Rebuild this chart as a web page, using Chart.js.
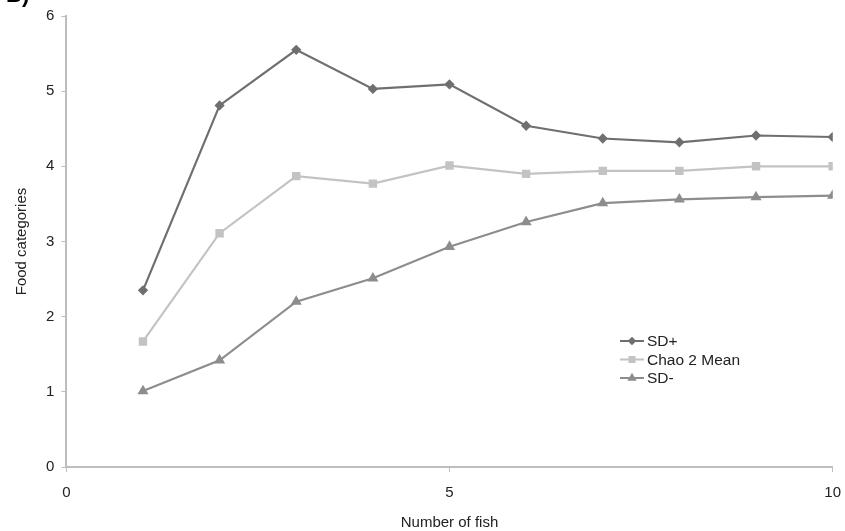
<!DOCTYPE html>
<html>
<head>
<meta charset="utf-8">
<script src="https://cdn.jsdelivr.net/npm/chart.js@4"></script>
<style>
  html, body { margin: 0; padding: 0; background: #fff; overflow: hidden; }
  #wrap { width: 853px; height: 532px; position: relative; }
</style>
</head>
<body>
<div id="wrap"><canvas id="fish-chart"></canvas></div>
<script>
// Number of fish sampled
const fishCounts = [1, 2, 3, 4, 5, 6, 7, 8, 9, 10];

// Food categories estimates
const sdPlus = [2.35, 4.81, 5.55, 5.03, 5.09, 4.54, 4.37, 4.32, 4.41, 4.39];
const chaoMean = [1.67, 3.11, 3.87, 3.77, 4.01, 3.90, 3.94, 3.94, 4.00, 4.00];
const sdMinus = [1.01, 1.42, 2.20, 2.51, 2.93, 3.26, 3.51, 3.56, 3.59, 3.61];

const seriesNames = ['SD+', 'Chao 2 Mean', 'SD-'];
const xTicks = [0, 5, 10];
const yTicks = [0, 1, 2, 3, 4, 5, 6];

const FONT = '"Liberation Sans", Arial, sans-serif';
const toPoints = vals => vals.map((v, i) => ({ x: fishCounts[i], y: v }));

// legend drawn inside the plot area, like the original
const innerLegend = {
    id: 'innerLegend',
    afterDraw(chart) {
        const ctx = chart.ctx;
        const left = 620, top = 341, rowH = 18.5;
        ctx.save();
        chart.data.datasets.forEach((ds, i) => {
            const y = top + i * rowH;
            ctx.strokeStyle = ds.borderColor;
            ctx.lineWidth = 2;
            ctx.beginPath();
            ctx.moveTo(left, y);
            ctx.lineTo(left + 24, y);
            ctx.stroke();
            Chart.helpers.drawPoint(ctx, {
                pointStyle: ds.pointStyle,
                radius: ds.pointRadius * 0.8,
                rotation: 0,
                borderWidth: 1
            }, left + 12, y);
            ctx.fillStyle = ds.borderColor;
            ctx.fill();
            ctx.fillStyle = '#222';
            ctx.font = '15.5px ' + FONT;
            ctx.textBaseline = 'middle';
            ctx.fillText(ds.label, left + 27, y + 1);
        });
        // panel letter, cut off at the top edge
        ctx.fillStyle = '#000';
        ctx.font = 'bold 22px ' + FONT;
        ctx.textBaseline = 'alphabetic';
        ctx.fillText('B)', 6, 2);
        ctx.restore();
    }
};

const ctx = document.getElementById('fish-chart').getContext('2d');
new Chart(ctx, {
    type: 'line',
    data: {
        datasets: [
            {
                label: seriesNames[0],
                data: toPoints(sdPlus),
                borderColor: '#6f6f6f',
                backgroundColor: '#6f6f6f',
                borderWidth: 2.2,
                pointStyle: 'rectRot',
                pointRadius: 3.6
            },
            {
                label: seriesNames[1],
                data: toPoints(chaoMean),
                borderColor: '#c3c3c3',
                backgroundColor: '#c3c3c3',
                borderWidth: 2.2,
                pointStyle: 'rect',
                pointRadius: 4.4
            },
            {
                label: seriesNames[2],
                data: toPoints(sdMinus),
                borderColor: '#8d8d8d',
                backgroundColor: '#8d8d8d',
                borderWidth: 2.2,
                pointStyle: 'triangle',
                pointRadius: 4.2
            }
        ]
    },
    options: {
        responsive: true,
        maintainAspectRatio: false,
        animation: false,
        layout: { padding: { top: 11, right: 0, left: 9, bottom: 0 } },
        elements: { line: { tension: 0 }, point: { borderWidth: 1 } },
        scales: {
            x: {
                type: 'linear',
                min: 0,
                max: 10,
                afterBuildTicks: axis => { axis.ticks = xTicks.map(v => ({ value: v })); },
                grid: { drawOnChartArea: false, tickLength: 5, color: '#bdbdbd' },
                border: { color: '#bdbdbd', width: 2 },
                ticks: { color: '#222', font: { family: FONT, size: 15 }, padding: 12 },
                title: { display: true, text: 'Number of fish', color: '#222', font: { family: FONT, size: 15 }, padding: { top: 0, bottom: 0 } }
            },
            y: {
                min: 0,
                max: 6,
                afterBuildTicks: axis => { axis.ticks = yTicks.map(v => ({ value: v })); },
                grid: { drawOnChartArea: false, tickLength: 5, color: '#bdbdbd' },
                border: { color: '#bdbdbd', width: 2 },
                ticks: { color: '#222', font: { family: FONT, size: 15 }, padding: 7 },
                title: { display: true, text: 'Food categories', color: '#222', font: { family: FONT, size: 15 }, padding: { bottom: 8 } }
            }
        },
        plugins: {
            legend: { display: false },
            tooltip: { enabled: false }
        }
    },
    plugins: [innerLegend]
});
</script>
</body>
</html>
